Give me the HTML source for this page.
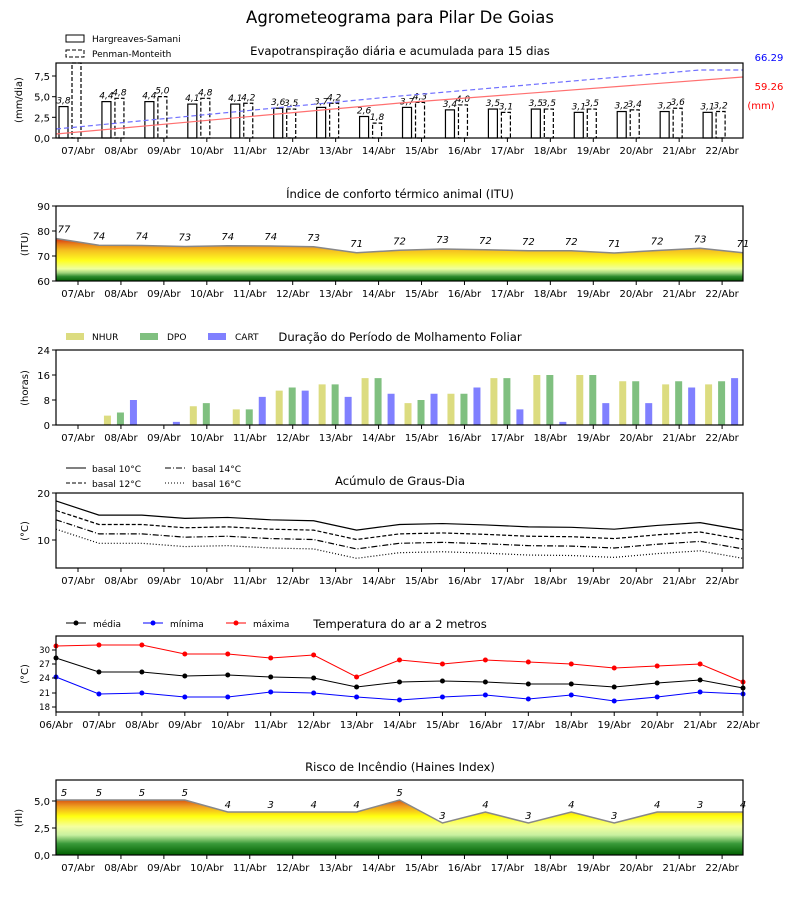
<!DOCTYPE html>
<html><head><meta charset="utf-8"><style>
body{margin:0;background:#fff}
svg text{font-family:"DejaVu Sans","Liberation Sans",sans-serif;fill:#000}
</style></head><body>
<svg id="s" width="800" height="900" xmlns="http://www.w3.org/2000/svg">
<defs>
<linearGradient id="gi" x1="0" y1="281" x2="0" y2="236" gradientUnits="userSpaceOnUse">
<stop offset="0" stop-color="#005f00"/><stop offset="0.1" stop-color="#2e8b2e"/><stop offset="0.18" stop-color="#9ed27a"/><stop offset="0.27" stop-color="#eeffa0"/><stop offset="0.45" stop-color="#ffff20"/><stop offset="0.68" stop-color="#f5c020"/><stop offset="0.82" stop-color="#e88018"/><stop offset="1" stop-color="#d01010"/>
</linearGradient>
<linearGradient id="gh" x1="0" y1="855" x2="0" y2="798" gradientUnits="userSpaceOnUse">
<stop offset="0" stop-color="#005f00"/><stop offset="0.2" stop-color="#3a9a3a"/><stop offset="0.35" stop-color="#c8f0a0"/><stop offset="0.5" stop-color="#f5ffa0"/><stop offset="0.68" stop-color="#ffff10"/><stop offset="0.85" stop-color="#f0a020"/><stop offset="1" stop-color="#d04010"/>
</linearGradient>
</defs>
</svg>
<script>
var s=document.getElementById('s'),h='';
function T(x,y,t,o){o=o||{};h+='<text x="'+x+'" y="'+y+'" font-size="'+(o.fs||10)+'" text-anchor="'+(o.a||'middle')+'"'+(o.it?' font-style="italic"':'')+(o.fill?' style="fill:'+o.fill+'"':'')+(o.rot?' transform="rotate(-90 '+x+' '+y+')"':'')+'>'+t+'</text>';}
function L(x1,y1,x2,y2,st){h+='<line x1="'+x1+'" y1="'+y1+'" x2="'+x2+'" y2="'+y2+'" style="'+(st||'stroke:#000;stroke-width:1')+'"/>';}
function P(pts,st){h+='<polyline fill="none" points="'+pts.map(function(p){return p[0]+','+p[1]}).join(' ')+'" style="'+st+'"/>';}
function R(x,y,w,hh,st){h+='<rect x="'+x+'" y="'+y+'" width="'+w+'" height="'+hh+'" style="'+st+'"/>';}
var dx=42.94;
function cx(i){return 78+i*dx;}
function px(i){return 56+i*dx;}
var d7=['07','08','09','10','11','12','13','14','15','16','17','18','19','20','21','22'];
function xt(yb,list,f){list.forEach(function(d,i){var x=f(i);L(x,yb,x,yb+4);T(x,yb+16,d+'/Abr');});}
function yt(list){list.forEach(function(a){L(52,a[0],56,a[0]);T(50,a[0]+4,a[1],{a:'end'});});}
function frame(t,b){R(56,t,687,b-t,'fill:none;stroke:#000;stroke-width:1.2');}
T(400,23,'Agrometeograma para Pilar De Goias',{fs:16.5});
// Panel 1
T(400,55,'Evapotranspiração diária e acumulada para 15 dias',{fs:11.6});
R(66,35,18,7,'fill:#fff;stroke:#000');T(92,42,'Hargreaves-Samani',{fs:9,a:'start'});
R(66,50,18,7,'fill:#fff;stroke:#000;stroke-dasharray:4,2');T(92,57,'Penman-Monteith',{fs:9,a:'start'});
var hs=[3.8,4.4,4.4,4.1,4.1,3.6,3.7,2.6,3.7,3.4,3.5,3.5,3.1,3.2,3.2,3.1],pm=[9.6,4.8,5.0,4.8,4.2,3.5,4.2,1.8,4.3,4.0,3.1,3.5,3.5,3.4,3.6,3.2];
function y1(v){return Math.max(63,138-v*8.27);}
hs.forEach(function(v,i){var c=cx(i);R(c-19,y1(v),9,138-y1(v),'fill:#fff;stroke:#000;stroke-width:1.2');T(c-14.5,y1(v)-3,v.toFixed(1).replace('.',','),{fs:9,it:1});});
pm.forEach(function(v,i){var c=cx(i);R(c-6,y1(v),9,138-y1(v),'fill:#fff;stroke:#000;stroke-width:1.2;stroke-dasharray:4,2');if(i>0)T(c-1.5,y1(v)-3,v.toFixed(1).replace('.',','),{fs:9,it:1});});
P([[56,134],[400,103],[743,77]],'stroke:#ff7070;stroke-width:1.2');
P([[56,129],[400,96],[700,70],[743,70]],'stroke:#7070ff;stroke-width:1.2;stroke-dasharray:5,3');
T(769,61,'66.29',{fs:10,fill:'#0000ff'});T(769,90,'59.26',{fs:10,fill:'#ff0000'});T(761,109,'(mm)',{fs:10,fill:'#ff0000'});
frame(63,138);yt([[138,'0,0'],[117.3,'2,5'],[96.7,'5,0'],[76,'7,5']]);xt(138,d7,cx);T(22,100,'(mm/dia)',{rot:1});
// Panel 2 ITU
T(400,198,'Índice de conforto térmico animal (ITU)',{fs:11.6});
var itu=[77,74,74,73,74,74,73,71,72,73,72,72,72,71,72,73,71],ip=[77,74.3,74.2,73.8,74.1,74,73.7,71.3,72.3,72.8,72.5,72.1,72.1,71.2,72.2,73.1,71.3];
var pts=ip.map(function(v,i){return [px(i),281-(v-60)*2.5]});
h+='<polygon points="56,281 '+pts.map(function(p){return p[0]+','+p[1]}).join(' ')+' 743,281" fill="url(#gi)"/>';
P(pts,'stroke:#888;stroke-width:1.5');
itu.forEach(function(v,i){T(Math.max(px(i),64),pts[i][1]-6,v,{fs:10,it:1});});
frame(206,281);yt([[281,'60'],[256,'70'],[231,'80'],[206,'90']]);xt(281,d7,cx);T(28,244,'(ITU)',{rot:1});
// Panel 3
T(400,341,'Duração do Período de Molhamento Foliar',{fs:11.6});
R(66,333,18,7,'fill:#dcdc80');T(92,340,'NHUR',{fs:9,a:'start'});
R(140,333,18,7,'fill:#80c080');T(167,340,'DPO',{fs:9,a:'start'});
R(208,333,18,7,'fill:#8080ff');T(235,340,'CART',{fs:9,a:'start'});
var w=[[0,0,0],[3,4,8],[0,0,1],[6,7,0],[5,5,9],[11,12,11],[13,13,9],[15,15,10],[7,8,10],[10,10,12],[15,15,5],[16,16,1],[16,16,7],[14,14,7],[13,14,12],[13,14,15]];
var cols=['#dcdc80','#80c080','#8080ff'];
w.forEach(function(a,i){var c=cx(i);a.forEach(function(v,k){if(v>0)R(c-17+k*13,425-v*3.125,7,v*3.125,'fill:'+cols[k]);});});
frame(350,425);yt([[425,'0'],[400,'8'],[375,'16'],[350,'24']]);xt(425,d7,cx);T(28,388,'(horas)',{rot:1});
// Panel 4
T(400,485,'Acúmulo de Graus-Dia',{fs:11.6});
L(66,468,86,468);T(92,472,'basal 10°C',{fs:9,a:'start'});
L(66,483,86,483,'stroke:#000;stroke-dasharray:4,2');T(92,487,'basal 12°C',{fs:9,a:'start'});
L(165,468,185,468,'stroke:#000;stroke-dasharray:6,2,1,2');T(192,472,'basal 14°C',{fs:9,a:'start'});
L(165,483,185,483,'stroke:#000;stroke-dasharray:1,2');T(192,487,'basal 16°C',{fs:9,a:'start'});
var g=[18.3,15.3,15.3,14.6,14.8,14.3,14.1,12.1,13.3,13.5,13.2,12.8,12.7,12.3,13.1,13.7,12.1];
var dsh=['','stroke-dasharray:4,2;','stroke-dasharray:6,2,1,2;','stroke-dasharray:1,2;'];
for(var k=0;k<4;k++){P(g.map(function(v,i){return [px(i),540-(v-2*k-10)*4.7]}),dsh[k]+'stroke:#000;stroke-width:1.2');}
frame(493,568);yt([[540,'10'],[493,'20']]);xt(568,d7,cx);T(28,531,'(°C)',{rot:1});
// Panel 5
T(400,628,'Temperatura do ar a 2 metros',{fs:11.6});
[[66,'#000','média'],[143,'#0000ff','mínima'],[226,'#ff0000','máxima']].forEach(function(a){L(a[0],623,a[0]+20,623,'stroke:'+a[1]);h+='<circle cx="'+(a[0]+10)+'" cy="623" r="2.5" fill="'+a[1]+'"/>';T(a[0]+27,627,a[2],{fs:9,a:'start'});});
var mx=[646,645,645,654,654,658,655,677,660,664,660,662,664,668,666,664,682],me=[658,672,672,676,675,677,678,687,682,681,682,684,684,687,683,680,688],mn=[677,694,693,697,697,692,693,697,700,697,695,699,695,701,697,692,694];
[[mx,'#ff0000'],[me,'#000'],[mn,'#0000ff']].forEach(function(a){P(a[0].map(function(v,i){return [px(i),v]}),'stroke:'+a[1]);a[0].forEach(function(v,i){h+='<circle cx="'+px(i)+'" cy="'+v+'" r="2.5" fill="'+a[1]+'"/>';});});
frame(636,712);
[[707,'18'],[693,'21'],[678,'24'],[664,'27'],[650,'30']].forEach(function(a){L(52,a[0],56,a[0]);T(50,a[0]+3,a[1],{a:'end',fs:8.5});});
xt(712,['06'].concat(d7),px);T(28,674,'(°C)',{rot:1});
// Panel 6
T(400,771,'Risco de Incêndio (Haines Index)',{fs:11.6});
var hi=[5,5,5,5,4,3,4,4,5,3,4,3,4,3,4,3,4],hy=[800,800,800,800,812,812,812,812,800,823,812,823,812,823,812,812,812];
var hp=hy.map(function(v,i){return [px(i),v]});
h+='<polygon points="56,855 '+hp.map(function(p){return p[0]+','+p[1]}).join(' ')+' 743,855" fill="url(#gh)"/>';
P(hp,'stroke:#888;stroke-width:1.5');
hi.forEach(function(v,i){T(Math.max(px(i),64),hy[i]-4,v,{fs:10,it:1});});
frame(780,855);yt([[855,'0,0'],[828,'2,5'],[801,'5,0']]);xt(855,d7,cx);T(22,818,'(HI)',{rot:1});
s.insertAdjacentHTML('beforeend',h);
</script>
</body></html>
